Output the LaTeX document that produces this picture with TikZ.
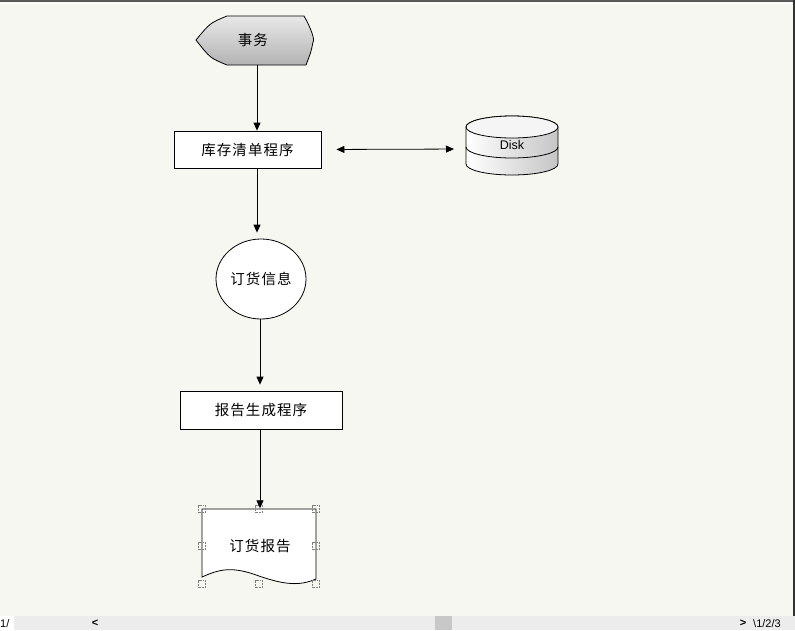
\documentclass[tikz,border=0pt]{standalone}
\usepackage{fontspec}
\setmainfont{Liberation Sans}
\newfontfamily\cjk[LetterSpace=7]{Noto Sans CJK SC}
\usetikzlibrary{arrows.meta,positioning,calc,shapes.geometric}
\definecolor{canvas}{HTML}{F7F7F2}
\definecolor{barbg}{HTML}{ECECEC}
\definecolor{thumb}{HTML}{C8C8C8}
\definecolor{edge}{HTML}{5A5A5A}

\begin{document}
\begin{tikzpicture}[x=1pt, y=-1pt,
          blk/.style={draw=black, fill=white, line width=0.8pt, font=\cjk\fontsize{14.5}{17}\selectfont},
          lbl/.style={inner sep=0pt, font=\cjk\fontsize{14.5}{17}\selectfont},
          arr/.style={-{Triangle[length=8pt,width=7pt]}, black, line width=0.8pt},
          dbl/.style={{Triangle[length=8pt,width=7pt]}-{Triangle[length=8pt,width=7pt]}, black, line width=0.8pt},
          hdl/.style={draw=gray, densely dotted, line width=0.6pt, minimum size=7pt, inner sep=0pt}]
        % canvas and window frame
        \fill[canvas] (0,0) rectangle (795,630);
        \useasboundingbox (0,0) rectangle (795,630);
        \fill[edge] (0,0) rectangle (795,1.5);
        \draw[white, line width=1pt] (0,3.5) -- (793,3.5);
        \fill[black!80] (792.5,0) rectangle (795,616);
        \fill[barbg] (0,616) rectangle (795,630);
        \fill[white] (0,616) rectangle (14,630);
        \fill[thumb] (435,616) rectangle (452,630);
        \node[anchor=west, inner sep=0pt, font=\fontsize{11}{12}\selectfont] (pg) at (0,624) {1/};
        \node[inner sep=0pt, font=\bfseries\fontsize{11}{12}\selectfont] (lt) at (95,623) {<};
        \node[inner sep=0pt, font=\bfseries\fontsize{11}{12}\selectfont] (gt) at (743,623) {>};
        \node[anchor=west, inner sep=0pt, font=\fontsize{11}{12}\selectfont] (tabs) at (753,624) {\textbackslash1/2/3};

        % event shape
        \shade[top color=gray!18, bottom color=gray!60, draw=black, line width=0.8pt]
          (227,16) -- (304,16) .. controls (311,28) and (315,40) .. (313,42)
          .. controls (311,52) .. (306,65) -- (227,65)
          .. controls (210,58) .. (196,40) .. controls (210,23) .. (227,16) -- cycle;
        \node[lbl, minimum height=49pt] (ev) at (253,40.5) {事务};

        \node[blk, minimum width=147pt, minimum height=37pt] (lib) at (247.5,149.5) {库存清单程序};

        % disk
        \shade[left color=white, right color=gray!45, draw=black, line width=0.8pt]
          (466,127) -- (466,164) arc[start angle=180, end angle=0, x radius=46, y radius=11]
          -- (558,127) arc[start angle=0, end angle=-180, x radius=46, y radius=11] -- cycle;
        \fill[white!92!gray, draw=black, line width=0.8pt] (512,127) ellipse[x radius=46, y radius=11];
        \draw[black, line width=0.8pt] (466,147) arc[start angle=180, end angle=0, x radius=46, y radius=11];
        \node[inner sep=0pt, font=\fontsize{12.5}{14}\selectfont] (disk) at (512,145) {Disk};
        \coordinate (diskw) at (466,149);

        \node[blk, ellipse, minimum width=90pt, minimum height=80pt, inner sep=0pt] (ord) at (261,279) {订货信息};

        \node[blk, minimum width=162pt, minimum height=38pt] (rep) at (261,410) {报告生成程序};

        % document
        \draw[fill=white, line width=0.8pt] (202,509) -- (316,509) -- (316,579)
          .. controls (300,586) and (285,585) .. (259,576)
          .. controls (232,566) and (220,569) .. (202,577) -- cycle;
        \node[lbl, minimum width=114pt, minimum height=75pt] (doc) at (260,546) {订货报告};
        \foreach \hx/\hy [count=\i] in {202/509,259/509,316/509,202/546,316/546,202/584,259/584,316/584}
          \node[hdl] (h\i) at (\hx,\hy) {};

        % connectors
        \coordinate (ax) at (257,0);
        \coordinate (bx) at (260,0);
        \draw[arr] (ax |- ev.south) -- (ax |- lib.north);
        \draw[arr, shorten >=6pt] (ax |- lib.south) -- (ax |- ord.north);
        \draw[arr, shorten >=6pt] (bx |- ord.south) -- (bx |- rep.north);
        \draw[arr] (bx |- rep.south) -- (bx |- doc.north);
        \draw[dbl, shorten <=15pt, shorten >=12pt] (lib.east) -- (diskw);
      \end{tikzpicture}
\end{document}
